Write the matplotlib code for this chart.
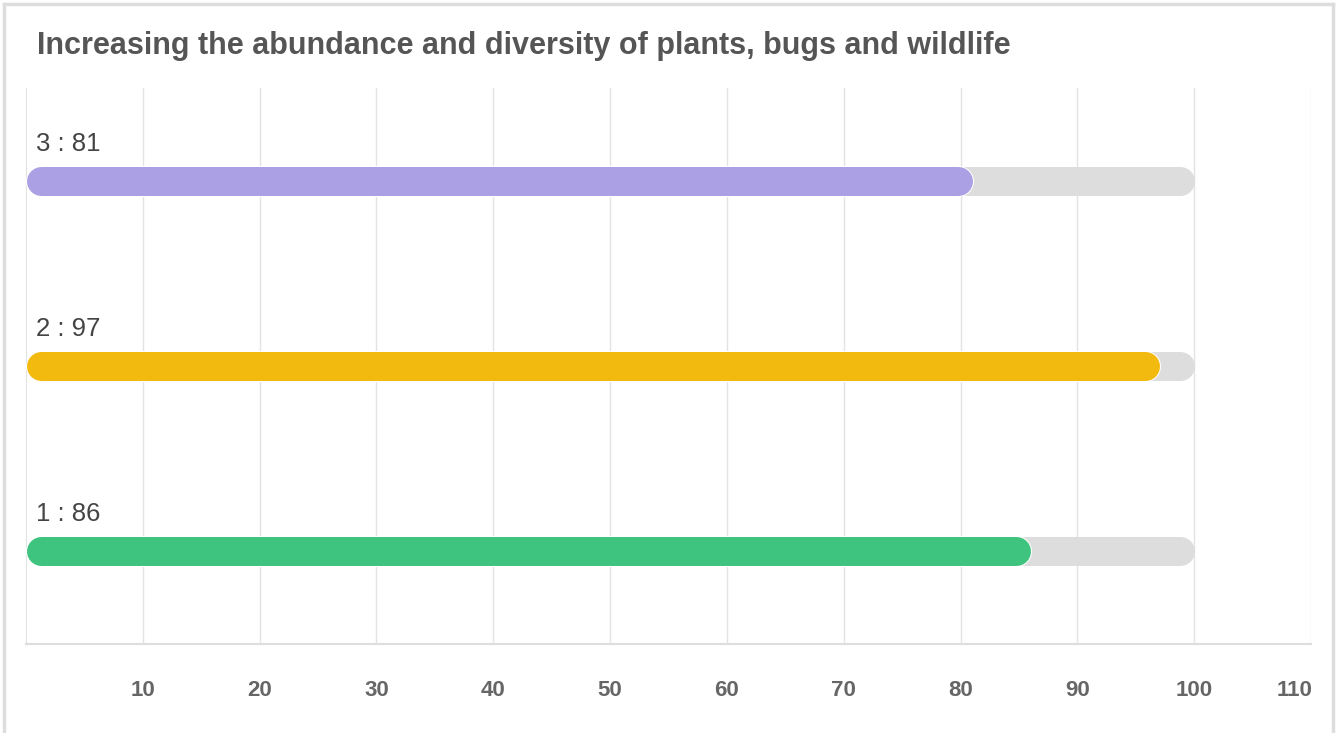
import matplotlib.pyplot as plt
import matplotlib.patheffects as pe
import matplotlib.transforms as mtransforms
from matplotlib.lines import Line2D

# data
categories = ["1", "2", "3"]
values = [86, 97, 81]
max_value = 100
colors = ["#3ec47e", "#f2b90f", "#aba0e4"]
ticks = [10, 20, 30, 40, 50, 60, 70, 80, 90, 100, 110]
title = "Increasing the abundance and diversity of plants, bugs and wildlife"

plt.rcParams['font.family'] = ['Liberation Sans', 'DejaVu Sans']

W, H, DPI = 1338, 733, 100
fig = plt.figure(figsize=(W / DPI, H / DPI), dpi=DPI)
ax = fig.add_axes([26 / W, 1 - 644 / H, (1311 - 26) / W, (644 - 88) / H])

ax.set_xlim(0, 110)
ax.set_ylim(-0.5, 2.5)

# bar thickness in pixels -> points, and cap radius in data units
bar_px = 29
lw = bar_px * 72 / DPI
px_per_unit = ax.get_position().width * W / 110
r = (bar_px / 2) / px_per_unit

for i, (cat, v, c) in enumerate(zip(categories, values, colors)):
    ax.plot([r, max_value - r], [i, i], color="#dddddd", lw=lw,
            solid_capstyle="round", zorder=2)
    ax.plot([r, v - r], [i, i], color=c, lw=lw, solid_capstyle="round", zorder=3,
            path_effects=[pe.Stroke(linewidth=lw + 1.5, foreground="white"), pe.Normal()])
    ax.annotate(f"{cat} : {v}", xy=(0, i), xytext=(10, 37), textcoords="offset pixels",
                ha="left", va="center", fontsize=18.5, color="#444444")

ax.set_xticks(ticks)
ax.set_xticklabels([str(t) for t in ticks])
ax.set_yticks([])
ax.grid(axis="x", color="#e3e3e3", lw=1)
ax.set_axisbelow(True)
ax.tick_params(axis="x", length=0, pad=26, labelsize=16, labelcolor="#666666")
for lab in ax.get_xticklabels():
    lab.set_fontweight("bold")
# last label is pushed inside the card
last = ax.get_xticklabels()[-1]
last.set_transform(last.get_transform() + mtransforms.ScaledTranslation(-16 / DPI, 0, fig.dpi_scale_trans))
for s in ["top", "right"]:
    ax.spines[s].set_visible(False)
ax.spines["left"].set_color("#e3e3e3")
ax.spines["bottom"].set_color("#dddddd")
ax.spines["bottom"].set_linewidth(1.5)

fig.text(37 / W, 1 - 46 / H, title, fontsize=22, fontweight="bold",
         color="#555555", ha="left", va="center")

# card border
bc = "#dddddd"
fig.add_artist(Line2D([4 / W, 1333 / W], [1 - 4 / H, 1 - 4 / H], color=bc, lw=2.5))
fig.add_artist(Line2D([4 / W, 4 / W], [0, 1 - 4 / H], color=bc, lw=2.5))
fig.add_artist(Line2D([1333 / W, 1333 / W], [0, 1 - 4 / H], color=bc, lw=2.5))

fig.savefig("out.png", dpi=DPI)
